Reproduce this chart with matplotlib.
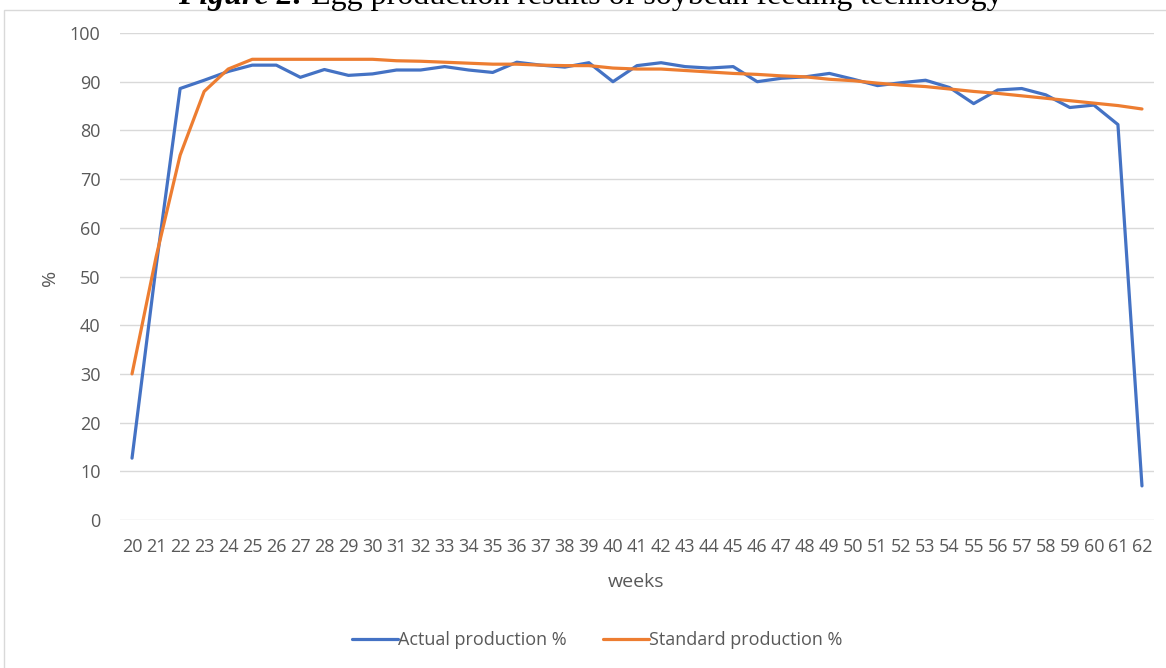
import matplotlib
matplotlib.use("Agg")
import matplotlib.pyplot as plt
from matplotlib.patches import Rectangle

weeks = list(range(20, 63))
actual = [12.7, 52.0, 88.6, 90.3, 92.1, 93.4, 93.4, 90.9, 92.5, 91.3,
          91.6, 92.4, 92.4, 93.1, 92.4, 91.9, 94.0, 93.4, 93.0, 93.9,
          90.0, 93.3, 93.9, 93.1, 92.8, 93.1, 90.0, 90.7, 91.0, 91.7,
          90.5, 89.2, 89.8, 90.3, 88.8, 85.5, 88.3, 88.6, 87.3, 84.7,
          85.2, 81.2, 7.0]
standard = [30.0, 54.0, 74.9, 88.0, 92.6, 94.6, 94.6, 94.6, 94.6, 94.6,
            94.6, 94.3, 94.2, 94.0, 93.8, 93.6, 93.6, 93.4, 93.3, 93.3,
            92.8, 92.6, 92.6, 92.3, 92.0, 91.7, 91.5, 91.2, 91.0, 90.5,
            90.2, 89.7, 89.3, 89.0, 88.5, 88.0, 87.6, 87.1, 86.6, 86.1,
            85.6, 85.1, 84.4]
yticks = [0, 10, 20, 30, 40, 50, 60, 70, 80, 90, 100]
title_bold = "Figure 2:"
title_rest = " Egg production results of soybean feeding technology"
series_names = ["Actual production %", "Standard production %"]

W, H = 1166, 668
fig = plt.figure(figsize=(W / 100, H / 100), dpi=100)
fig.patch.set_facecolor("white")

# chart area border
fig.patches.append(Rectangle((4 / W, -0.01), 1.2, 1 - 10 / H + 0.01,
                             transform=fig.transFigure, fill=False,
                             edgecolor="#d9d9d9", linewidth=1.0))

ax = fig.add_axes([120 / W, 1 - 520 / H, (1154 - 120) / W, (520 - 33) / H])
ax.set_facecolor("none")
font = "Open Sans"
gray = "#595959"
fs = 13

l1, = ax.plot(weeks, actual, color="#4472C4", linewidth=2.3,
              solid_joinstyle="round", solid_capstyle="round", zorder=3)
l2, = ax.plot(weeks, standard, color="#ED7D31", linewidth=2.3,
              solid_joinstyle="round", solid_capstyle="round", zorder=4)

ax.set_xlim(19.5, 62.5)
ax.set_ylim(0, 100)
ax.set_yticks(yticks)
ax.set_xticks(weeks)
ax.set_xticklabels([str(w) for w in weeks], fontfamily=font, fontsize=fs, color=gray)
ax.set_yticklabels([str(v) for v in yticks], fontfamily=font, fontsize=fs, color=gray)
ax.tick_params(axis="both", length=0)
ax.tick_params(axis="y", pad=14.0)
ax.tick_params(axis="x", pad=13)
ax.grid(axis="y", color="#d9d9d9", linewidth=1.0)
ax.set_axisbelow(True)
for s in ax.spines.values():
    s.set_visible(False)

fig.text(636 / W, 1 - 582 / H, "weeks", ha="center", va="center",
         fontfamily=font, fontsize=14, color=gray)
fig.text(50 / W, 1 - 278 / H, "%", ha="center", va="center", rotation=90,
         fontfamily=font, fontsize=14, color=gray)

leg = fig.legend([l1, l2], series_names, loc="center",
                 bbox_to_anchor=(597 / W, 1 - 640 / H), ncol=2, frameon=False,
                 prop={"family": font, "size": fs}, handlelength=2.55,
                 handletextpad=0.0, columnspacing=2.0, borderpad=0)
for t in leg.get_texts():
    t.set_color(gray)

# title (clipped at top, as in the reference)
fig.canvas.draw()
r = fig.canvas.get_renderer()
tb = fig.text(0, 1 - 4 / H, title_bold, ha="left", va="baseline",
              fontfamily="Liberation Serif", fontsize=23, fontweight="bold",
              fontstyle="italic", color="black")
tr = fig.text(0, 1 - 4 / H, title_rest, ha="left", va="baseline",
              fontfamily="Liberation Serif", fontsize=23, color="black")
wb = tb.get_window_extent(r).width
x0 = 178
tb.set_x(x0 / W)
tr.set_x((x0 + wb) / W)

fig.savefig("out.png", dpi=100, facecolor="white")
